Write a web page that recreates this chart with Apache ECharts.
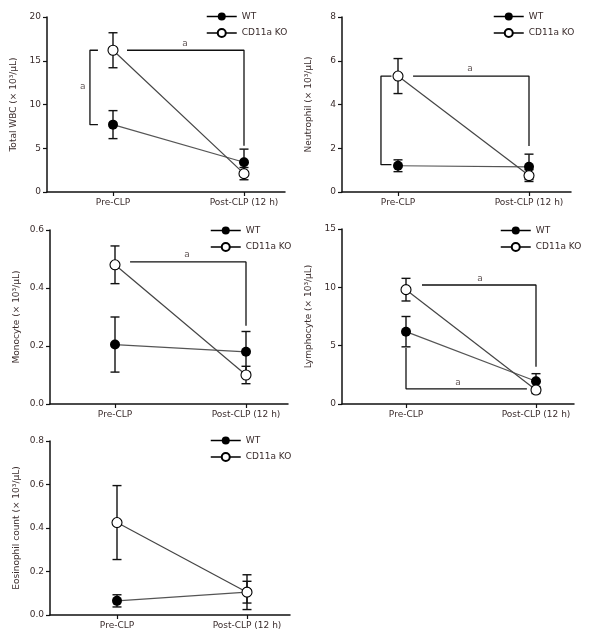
<!DOCTYPE html>
<html><head><meta charset="utf-8">
<script src="https://cdn.jsdelivr.net/npm/echarts@6/dist/echarts.min.js"></script>
<style>html,body{margin:0;padding:0;background:#fff}#c{width:600px;height:637px}</style>
</head><body><div id="c"></div>
<script>
const categories = ['Pre-CLP', 'Post-CLP (12 h)'];
const seriesNames = ['WT', 'CD11a KO'];

const wbcWT = [7.7, 3.4], wbcWTSem = [1.6, 1.5];
const wbcKO = [16.2, 2.1], wbcKOSem = [2.0, 0.7];
const wbcTicks = [0, 5, 10, 15, 20];

const neuWT = [1.2, 1.15], neuWTSem = [0.27, 0.58];
const neuKO = [5.3, 0.75], neuKOSem = [0.8, 0.27];
const neuTicks = [0, 2, 4, 6, 8];

const monoWT = [0.205, 0.18], monoWTSem = [0.095, 0.07];
const monoKO = [0.48, 0.10], monoKOSem = [0.065, 0.03];
const monoTicks = [0, 0.2, 0.4, 0.6];

const lymWT = [6.2, 1.95], lymWTSem = [1.3, 0.65];
const lymKO = [9.8, 1.2], lymKOSem = [0.97, 0.3];
const lymTicks = [0, 5, 10, 15];

const eosWT = [0.065, 0.105], eosWTSem = [0.028, 0.08];
const eosKO = [0.425, 0.105], eosKOSem = [0.17, 0.05];
const eosTicks = [0, 0.2, 0.4, 0.6, 0.8];

// significance brackets (data units: x 0=Pre, 1=Post)
const wbcBrackets = [
  [[-0.115, 16.2], [-0.176, 16.2], [-0.176, 7.7], [-0.115, 7.7]],
  [[0.107, 16.2], [1, 16.2], [1, 5.3]]
];
const wbcSigLabels = [[-0.23, 12], [0.55, 17.0]];
const neuBrackets = [
  [[-0.05, 5.3], [-0.13, 5.3], [-0.13, 1.25], [-0.05, 1.25]],
  [[0.115, 5.3], [1, 5.3], [1, 2.1]]
];
const neuSigLabels = [[0.55, 5.65]];
const monoBrackets = [
  [[0.115, 0.49], [1, 0.49], [1, 0.27]]
];
const monoSigLabels = [[0.55, 0.515]];
const lymBrackets = [
  [[0.123, 10.2], [1, 10.2], [1, 3.2]],
  [[0, 4.8], [0, 1.3], [0.93, 1.3]]
];
const lymSigLabels = [[0.57, 10.75], [0.4, 1.85]];
const eosBrackets = [];
const eosSigLabels = [];

const FONT = 'DejaVu Sans';
const TXT = '#3a2c2c';

const panels = [
  {name: 'Total WBC (× 10³/μL)', left: 47, top: 17, width: 238, height: 175, pre: 66, unit: 131, ticks: wbcTicks,
   wt: wbcWT, wtS: wbcWTSem, ko: wbcKO, koS: wbcKOSem, br: wbcBrackets, sig: wbcSigLabels, lg: [201, 7]},
  {name: 'Neutrophil (× 10³/μL)', left: 342, top: 17, width: 229, height: 175, pre: 56, unit: 131, ticks: neuTicks,
   wt: neuWT, wtS: neuWTSem, ko: neuKO, koS: neuKOSem, br: neuBrackets, sig: neuSigLabels, lg: [488, 7]},
  {name: 'Monocyte (× 10³/μL)', left: 50, top: 230, width: 238, height: 174, pre: 65, unit: 131, ticks: monoTicks, dec: 1,
   wt: monoWT, wtS: monoWTSem, ko: monoKO, koS: monoKOSem, br: monoBrackets, sig: monoSigLabels, lg: [205, 221]},
  {name: 'Lymphocyte (× 10³/μL)', left: 342, top: 229, width: 232, height: 175, pre: 64, unit: 130, ticks: lymTicks,
   wt: lymWT, wtS: lymWTSem, ko: lymKO, koS: lymKOSem, br: lymBrackets, sig: lymSigLabels, lg: [495, 221]},
  {name: 'Eosinophil count (× 10³/μL)', left: 50, top: 441, width: 240, height: 174, pre: 67, unit: 130, ticks: eosTicks, dec: 1,
   wt: eosWT, wtS: eosWTSem, ko: eosKO, koS: eosKOSem, br: eosBrackets, sig: eosSigLabels, lg: [205, 431]}
];

const grid = [], xAxis = [], yAxis = [], series = [], legend = [];

panels.forEach((p, i) => {
  grid.push({left: p.left, top: p.top, width: p.width, height: p.height});
  const xmin = -p.pre / p.unit, xmax = (p.width - p.pre) / p.unit;
  xAxis.push({
    type: 'value', gridIndex: i, min: xmin, max: xmax,
    axisLine: {show: true, onZero: false, lineStyle: {color: '#111', width: 1.5}},
    axisTick: {show: true, customValues: [0, 1], length: 4, lineStyle: {color: '#111', width: 1.2}},
    axisLabel: {customValues: [0, 1], formatter: v => categories[Math.round(v)], fontFamily: FONT, fontSize: 9, color: TXT, margin: 6},
    splitLine: {show: false}
  });
  const tmax = p.ticks[p.ticks.length - 1];
  yAxis.push({
    type: 'value', gridIndex: i, min: 0, max: tmax, interval: p.ticks[1] - p.ticks[0],
    name: p.name, nameLocation: 'middle', nameGap: 29,
    nameTextStyle: {fontFamily: FONT, fontSize: 9, color: TXT},
    axisLine: {show: true, onZero: false, lineStyle: {color: '#111', width: 1.5}},
    axisTick: {show: true, length: 4, lineStyle: {color: '#111', width: 1.2}},
    axisLabel: {fontFamily: FONT, fontSize: 9, color: TXT, margin: 6, formatter: v => p.dec ? v.toFixed(p.dec) : String(v)},
    splitLine: {show: false}
  });
  p.br.forEach(b => series.push({
    type: 'line', xAxisIndex: i, yAxisIndex: i, data: b, symbol: 'none', silent: true,
    lineStyle: {color: '#111', width: 1.3}, z: 1
  }));
  if (p.sig.length) series.push({
    type: 'scatter', xAxisIndex: i, yAxisIndex: i, data: p.sig, symbolSize: 0, silent: true,
    label: {show: true, formatter: 'a', position: 'inside', fontFamily: FONT, fontSize: 9, color: TXT}
  });
  const errData = [];
  [[p.wt, p.wtS], [p.ko, p.koS]].forEach(([m, s]) => m.forEach((v, k) => errData.push([k, v, s[k]])));
  series.push({
    type: 'custom', xAxisIndex: i, yAxisIndex: i, data: errData, silent: true, z: 2,
    renderItem: (params, api) => {
      const x = api.value(0), m = api.value(1), s = api.value(2);
      const lo = api.coord([x, m - s]), hi = api.coord([x, m + s]);
      const st = {stroke: '#111', lineWidth: 1.4};
      const w = 4.5;
      return {type: 'group', children: [
        {type: 'line', shape: {x1: lo[0], y1: lo[1], x2: hi[0], y2: hi[1]}, style: st},
        {type: 'line', shape: {x1: lo[0] - w, y1: lo[1], x2: lo[0] + w, y2: lo[1]}, style: st},
        {type: 'line', shape: {x1: hi[0] - w, y1: hi[1], x2: hi[0] + w, y2: hi[1]}, style: st}
      ]};
    }
  });
  series.push({
    name: 'WT', type: 'line', xAxisIndex: i, yAxisIndex: i,
    data: p.wt.map((v, k) => [k, v]), symbol: 'circle', symbolSize: 10,
    itemStyle: {color: '#000'}, lineStyle: {color: '#555', width: 1.2}, z: 3
  });
  series.push({
    name: 'CD11a KO', type: 'line', xAxisIndex: i, yAxisIndex: i,
    data: p.ko.map((v, k) => [k, v]), symbol: 'circle', symbolSize: 10,
    itemStyle: {color: '#fff', borderColor: '#000', borderWidth: 1.1}, lineStyle: {color: '#444', width: 1.2}, z: 4
  });
  legend.push({
    left: p.lg[0], top: p.lg[1], orient: 'vertical', itemWidth: 30, itemHeight: 10, itemGap: 7,
    data: seriesNames, selectedMode: false,
    lineStyle: {color: '#000', width: 1.5},
    textStyle: {fontFamily: FONT, fontSize: 9, color: TXT, padding: [0, 0, 0, 0]}
  });
});

const chart = echarts.init(document.getElementById('c'), null, {renderer: 'canvas'});
chart.setOption({animation: false, backgroundColor: '#fff', grid, xAxis, yAxis, series, legend});
</script></body></html>
